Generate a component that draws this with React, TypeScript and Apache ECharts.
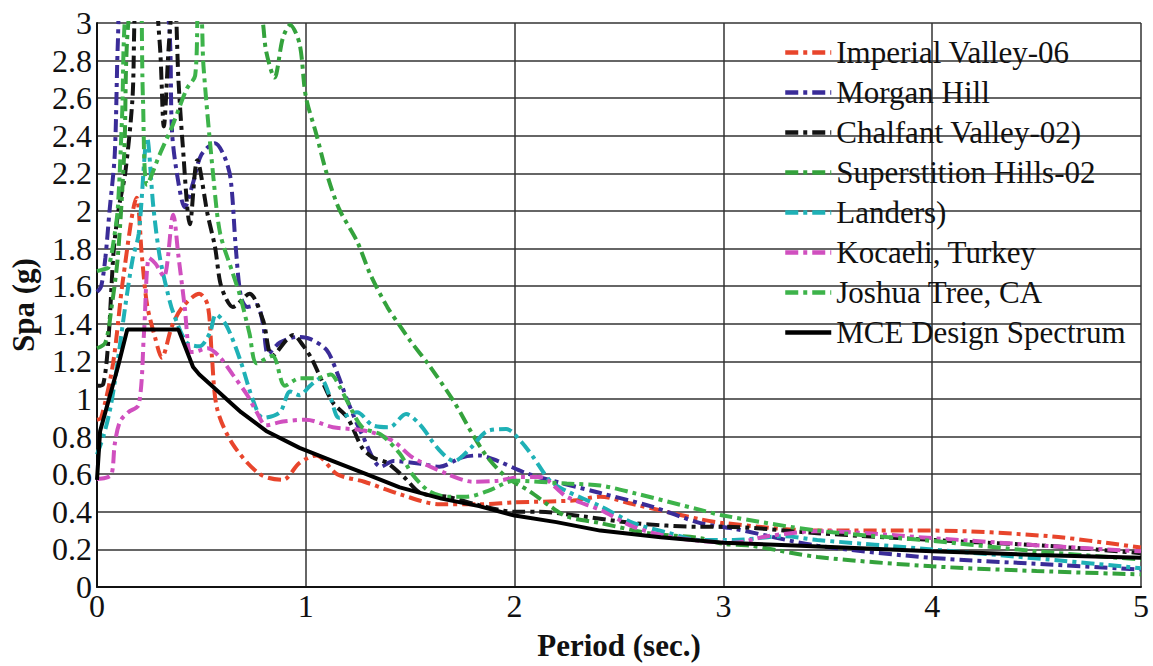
import React, { useEffect, useRef } from 'react';
import * as echarts from 'echarts';

// ---------- data (period in s, spectral acceleration in g) ----------
const T_IMPERIAL = [0, 0.02, 0.077, 0.125, 0.19, 0.215, 0.24, 0.28, 0.31, 0.36, 0.41, 0.49, 0.53, 0.55, 0.575, 0.65, 0.78, 0.89, 0.97, 1.05, 1.15, 1.28, 1.46, 1.64, 1.83, 2.0, 2.28, 2.41, 2.57, 2.89, 3.0, 3.45, 4.0, 4.56, 5.0];
const S_IMPERIAL = [0.89, 0.9, 1.19, 1.64, 2.07, 1.76, 1.5, 1.32, 1.22, 1.39, 1.49, 1.56, 1.5, 1.23, 0.95, 0.76, 0.6, 0.57, 0.66, 0.7, 0.6, 0.56, 0.49, 0.44, 0.44, 0.45, 0.46, 0.48, 0.44, 0.36, 0.34, 0.3, 0.3, 0.27, 0.21];

const T_MORGAN = [0, 0.02, 0.04, 0.06, 0.085, 0.1, 0.12, 0.22, 0.34, 0.36, 0.39, 0.42, 0.46, 0.5, 0.565, 0.61, 0.64, 0.665, 0.69, 0.72, 0.765, 0.795, 0.82, 0.876, 0.96, 1.02, 1.1, 1.15, 1.2, 1.27, 1.36, 1.42, 1.55, 1.64, 1.75, 1.83, 1.92, 2.07, 2.41, 2.65, 2.89, 3.05, 3.45, 4.0, 4.56, 5.0];
const S_MORGAN = [1.57, 1.6, 1.75, 2.0, 2.3, 2.9, 3.3, 3.5, 3.05, 2.41, 2.15, 2.02, 2.15, 2.3, 2.36, 2.29, 2.17, 1.8, 1.54, 1.49, 1.5, 1.4, 1.24, 1.3, 1.33, 1.32, 1.26, 1.14, 0.99, 0.81, 0.64, 0.67, 0.655, 0.64, 0.69, 0.7, 0.67, 0.6, 0.5, 0.43, 0.34, 0.31, 0.22, 0.155, 0.12, 0.093];

const T_CHALFANT = [0, 0.03, 0.055, 0.08, 0.105, 0.135, 0.17, 0.19, 0.25, 0.3, 0.32, 0.345, 0.37, 0.39, 0.41, 0.445, 0.48, 0.53, 0.565, 0.59, 0.62, 0.65, 0.73, 0.795, 0.84, 0.94, 0.99, 1.03, 1.08, 1.13, 1.2, 1.27, 1.32, 1.39, 1.47, 1.55, 1.68, 1.83, 2.0, 2.12, 2.33, 2.57, 2.89, 3.0, 3.45, 4.0, 4.56, 5.0];
const S_CHALFANT = [1.07, 1.08, 1.32, 1.79, 2.02, 2.2, 2.6, 3.2, 3.4, 2.9, 2.45, 2.9, 3.2, 2.7, 2.36, 1.93, 2.27, 1.98, 1.81, 1.62, 1.53, 1.49, 1.56, 1.42, 1.23, 1.34, 1.28, 1.21, 1.09, 0.98, 0.9, 0.74, 0.69, 0.66, 0.585, 0.5, 0.48, 0.435, 0.4, 0.4, 0.375, 0.34, 0.32, 0.32, 0.286, 0.25, 0.218, 0.18];

const T_SUPERSTITION = [0, 0.04, 0.07, 0.1, 0.13, 0.16, 0.3, 0.5, 0.7, 0.79, 0.81, 0.85, 0.89, 0.925, 0.97, 1.0, 1.05, 1.1, 1.16, 1.245, 1.31, 1.39, 1.45, 1.5, 1.59, 1.71, 1.8, 1.87, 1.96, 2.07, 2.17, 2.25, 2.41, 2.65, 2.89, 3.0, 3.13, 3.45, 4.0, 4.5, 5.0];
const S_SUPERSTITION = [1.27, 1.3, 1.49, 1.76, 2.3, 3.1, 3.6, 3.7, 3.4, 3.03, 2.85, 2.71, 2.92, 2.99, 2.89, 2.61, 2.41, 2.2, 2.01, 1.84, 1.66, 1.49, 1.39, 1.31, 1.18, 0.985, 0.81, 0.69, 0.585, 0.51, 0.43, 0.375, 0.34, 0.285, 0.26, 0.23, 0.22, 0.16, 0.11, 0.085, 0.067];

const T_LANDERS = [0, 0.03, 0.06, 0.085, 0.135, 0.17, 0.2, 0.24, 0.27, 0.3, 0.335, 0.365, 0.43, 0.49, 0.54, 0.57, 0.62, 0.685, 0.75, 0.795, 0.876, 0.925, 0.97, 1.02, 1.07, 1.12, 1.16, 1.245, 1.32, 1.4, 1.48, 1.55, 1.63, 1.71, 1.79, 1.87, 1.96, 2.03, 2.09, 2.17, 2.25, 2.41, 2.57, 2.73, 2.89, 3.05, 3.29, 3.45, 4.0, 4.56, 5.0];
const S_LANDERS = [0.705, 0.8, 0.93, 1.09, 1.49, 1.74, 1.88, 2.39, 2.02, 1.76, 1.58, 1.46, 1.3, 1.28, 1.35, 1.45, 1.39, 1.21, 0.985, 0.9, 0.93, 1.04, 1.02, 1.07, 1.11, 1.0, 0.9, 0.93, 0.86, 0.85, 0.92, 0.86, 0.74, 0.67, 0.74, 0.83, 0.84, 0.775, 0.69, 0.565, 0.51, 0.43, 0.34, 0.29, 0.25, 0.25, 0.27, 0.25, 0.2, 0.146, 0.1];

const T_KOCAELI = [0, 0.04, 0.07, 0.085, 0.11, 0.15, 0.2, 0.225, 0.25, 0.28, 0.32, 0.365, 0.39, 0.42, 0.445, 0.46, 0.53, 0.59, 0.65, 0.72, 0.765, 0.81, 0.89, 1.0, 1.13, 1.29, 1.42, 1.51, 1.68, 1.8, 1.92, 2.03, 2.12, 2.25, 2.41, 2.57, 2.73, 2.89, 3.05, 3.21, 3.45, 4.0, 4.56, 5.0];
const S_KOCAELI = [0.575, 0.58, 0.6, 0.76, 0.88, 0.93, 0.97, 1.35, 1.75, 1.72, 1.65, 1.98, 1.76, 1.49, 1.25, 1.25, 1.27, 1.22, 1.13, 1.02, 0.93, 0.86, 0.88, 0.89, 0.85, 0.83, 0.775, 0.69, 0.6, 0.56, 0.565, 0.585, 0.585, 0.48, 0.41, 0.32, 0.27, 0.245, 0.235, 0.27, 0.297, 0.26, 0.218, 0.19];

const T_JOSHUA = [0, 0.03, 0.055, 0.085, 0.1, 0.12, 0.14, 0.2, 0.22, 0.24, 0.3, 0.36, 0.43, 0.47, 0.485, 0.5, 0.51, 0.56, 0.59, 0.65, 0.685, 0.73, 0.765, 0.84, 0.9, 0.97, 1.05, 1.12, 1.16, 1.2, 1.27, 1.36, 1.45, 1.51, 1.59, 1.68, 1.77, 1.87, 2.0, 2.25, 2.41, 2.57, 2.89, 3.0, 3.45, 4.0, 4.5, 5.0];
const S_JOSHUA = [1.68, 1.69, 1.7, 1.88, 2.02, 2.5, 3.1, 3.3, 2.6, 2.14, 2.3, 2.45, 2.65, 2.72, 3.1, 3.05, 2.77, 2.15, 1.88, 1.67, 1.55, 1.35, 1.19, 1.23, 1.07, 1.11, 1.11, 1.13, 1.07, 0.985, 0.85, 0.81, 0.71, 0.6, 0.51, 0.48, 0.48, 0.51, 0.565, 0.55, 0.54, 0.5, 0.41, 0.38, 0.3, 0.245, 0.19, 0.146];

const T_MCE = [0, 0.015, 0.05, 0.1, 0.145, 0.39, 0.46, 0.49, 0.55, 0.65, 0.69, 0.81, 0.97, 1.13, 1.29, 1.45, 1.65, 1.83, 2.0, 2.2, 2.41, 2.7, 3.0, 3.37, 4.0, 4.5, 5.0];
const S_MCE = [0.57, 0.83, 0.97, 1.17, 1.37, 1.37, 1.17, 1.13, 1.07, 0.97, 0.93, 0.83, 0.74, 0.67, 0.6, 0.53, 0.47, 0.43, 0.38, 0.345, 0.3, 0.265, 0.235, 0.22, 0.19, 0.17, 0.155];

const NAMES = [
  'Imperial Valley-06',
  'Morgan Hill',
  'Chalfant Valley-02)',
  'Superstition Hills-02',
  'Landers)',
  'Kocaeli, Turkey',
  'Joshua Tree, CA',
  'MCE Design Spectrum',
];
const COLORS = ['#e8452c', '#3a2c98', '#141414', '#34a23c', '#1fb1b6', '#d04fbf', '#3db34a', '#000000'];
const PERIODS = [T_IMPERIAL, T_MORGAN, T_CHALFANT, T_SUPERSTITION, T_LANDERS, T_KOCAELI, T_JOSHUA, T_MCE];
const SPAS = [S_IMPERIAL, S_MORGAN, S_CHALFANT, S_SUPERSTITION, S_LANDERS, S_KOCAELI, S_JOSHUA, S_MCE];

const SERIF = '"Liberation Serif", "Times New Roman", serif';

export default function App() {
  const ref = useRef<HTMLDivElement>(null);

  useEffect(() => {
    if (!ref.current) return;
    const chart = echarts.init(ref.current, null, { renderer: 'svg' });

    const series = NAMES.map((name, i) => {
      const isMce = i === NAMES.length - 1;
      return {
        name,
        type: 'line',
        data: PERIODS[i].map((t, k) => [t, SPAS[i][k]]),
        symbol: 'none',
        showSymbol: false,
        smooth: isMce ? false : 0.3,
        clip: true,
        color: COLORS[i],
        lineStyle: {
          color: COLORS[i],
          width: 4,
          type: isMce ? 'solid' : [13, 5, 4, 5],
        },
        z: isMce ? 3 : 2,
      };
    });

    chart.setOption({
      animation: false,
      backgroundColor: '#ffffff',
      grid: { left: 97, right: 12, top: 23, bottom: 71 },
      legend: {
        orient: 'vertical',
        left: 783,
        top: 37,
        itemWidth: 46,
        itemHeight: 14,
        itemGap: 9,
        padding: 0,
        itemStyle: { opacity: 0 },
        lineStyle: { width: 4.5 },
        textStyle: { fontFamily: SERIF, fontSize: 31, color: '#111', lineHeight: 30 },
        data: NAMES,
      },
      xAxis: {
        type: 'value',
        min: 0,
        max: 5,
        interval: 1,
        name: 'Period (sec.)',
        nameLocation: 'middle',
        nameGap: 43,
        nameTextStyle: { fontFamily: SERIF, fontSize: 31, fontWeight: 'bold', color: '#111' },
        axisLine: { show: true, lineStyle: { color: '#111', width: 2 } },
        axisTick: { show: false },
        axisLabel: { fontFamily: SERIF, fontSize: 32, color: '#111', margin: 3 },
        splitLine: { show: true, lineStyle: { color: '#333', width: 1.5 } },
      },
      yAxis: {
        type: 'value',
        min: 0,
        max: 3,
        interval: 0.2,
        name: 'Spa (g)',
        nameLocation: 'middle',
        nameGap: 58,
        nameRotate: 90,
        nameTextStyle: { fontFamily: SERIF, fontSize: 31, fontWeight: 'bold', color: '#111' },
        axisLine: { show: true, lineStyle: { color: '#111', width: 2 } },
        axisTick: { show: false },
        axisLabel: { fontFamily: SERIF, fontSize: 32, color: '#111', margin: 5 },
        splitLine: { show: true, lineStyle: { color: '#333', width: 1.5 } },
      },
      series,
    });

    return () => chart.dispose();
  }, []);

  return (
    <div
      ref={ref}
      style={{ position: 'absolute', left: 0, top: 0, width: 1153, height: 666, background: '#fff' }}
    />
  );
}
